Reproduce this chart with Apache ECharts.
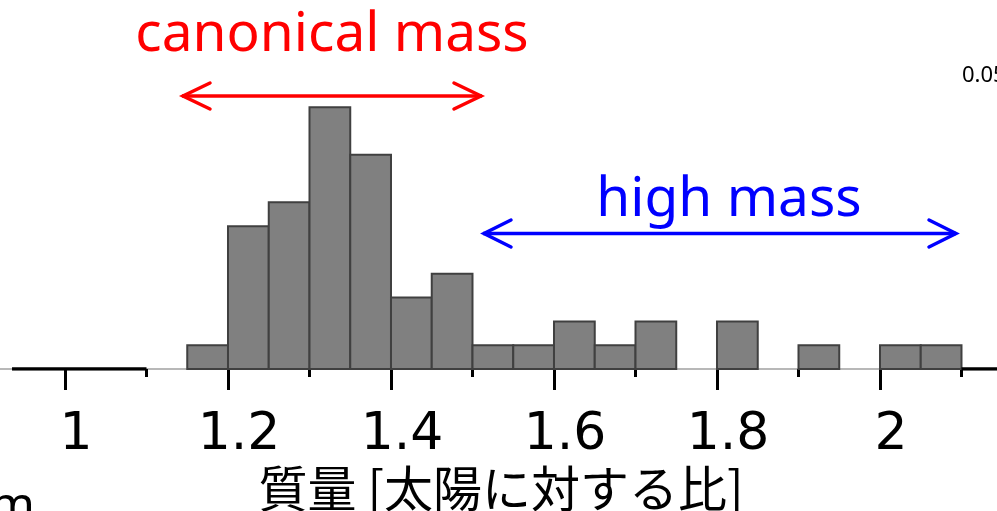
<!DOCTYPE html>
<html><head><meta charset="utf-8">
<script src="https://cdn.jsdelivr.net/npm/echarts@6/dist/echarts.min.js"></script>
<style>html,body{margin:0;padding:0;background:#fff}#c{width:997px;height:511px}</style>
</head><body><div id="c"></div>
<script>
const binStarts = [1.15,1.20,1.25,1.30,1.35,1.40,1.45,1.50,1.55,1.60,1.65,1.70,1.75,1.80,1.85,1.90,1.95,2.00,2.05];
const binEnds   = [1.20,1.25,1.30,1.35,1.40,1.45,1.50,1.55,1.60,1.65,1.70,1.75,1.80,1.85,1.90,1.95,2.00,2.05,2.10];
const counts    = [1,6,7,11,9,3,4,1,1,2,1,2,0,2,0,1,0,1,1];
const majorTicks = [1,1.2,1.4,1.6,1.8,2];
const minorTicks = [1.1,1.3,1.5,1.7,1.9,2.1];
const axisTitle = '質量 [太陽に対する比]';

const chart = echarts.init(document.getElementById('c'), null, {renderer:'canvas'});
const xMin = 0.92025, xMax = 2.14356;
const barData = binStarts.map((s,i)=>[s, binEnds[i], counts[i]]);

chart.setOption({
  animation:false,
  backgroundColor:'#fff',
  grid:{left:0,right:0,top:0,bottom:142,containLabel:false,outerBoundsMode:'none'},
  xAxis:[{
    type:'value', min:xMin, max:xMax,
    axisLine:{show:true,lineStyle:{color:'#a0a0a0',width:1.5}},
    axisTick:{show:true,customValues:majorTicks,length:21,lineStyle:{color:'#000',width:3}},
    axisLabel:{show:true,customValues:majorTicks,margin:40,fontSize:52,color:'#000',
      fontFamily:'"DejaVu Sans", sans-serif',padding:[0,0,0,22],
      formatter:v=>String(v)},
    splitLine:{show:false}
  },{
    type:'value', min:xMin, max:xMax, position:'bottom',
    axisLine:{show:false},
    axisTick:{show:true,customValues:minorTicks,length:8,lineStyle:{color:'#000',width:3}},
    axisLabel:{show:false,customValues:minorTicks},
    splitLine:{show:false}
  }],
  yAxis:{type:'value',min:0,max:15.5,show:false},
  series:[{
    type:'custom',
    data:barData,
    renderItem:function(params,api){
      const lo=api.value(0),hi=api.value(1),c=api.value(2);
      if(!c) return null;
      const p1=api.coord([lo,c]),p2=api.coord([hi,0]);
      return {type:'rect',shape:{x:p1[0],y:p1[1],width:p2[0]-p1[0],height:p2[1]-p1[1]},
        style:{fill:'#808080',stroke:'#404040',lineWidth:2}};
    },
    z:2
  },{
    type:'line',data:[[0.935,0],[1.1,0]],symbol:'none',lineStyle:{color:'#000',width:3.5},z:3
  },{
    type:'line',data:[[2.1,0],[xMax,0]],symbol:'none',lineStyle:{color:'#000',width:3.5},z:3
  }],
  graphic:[
    {type:'text',x:332,y:35,style:{text:'canonical mass',fill:'#ff0000',font:'55px "Noto Sans"',textAlign:'center',textVerticalAlign:'middle'}},
    {type:'text',x:729,y:200,style:{text:'high mass',fill:'#0000ff',font:'55px "Noto Sans"',textAlign:'center',textVerticalAlign:'middle'}},
    {type:'polyline',shape:{points:[[182,96],[482,96]]},style:{stroke:'#ff0000',lineWidth:3.5,fill:null}},
    {type:'polyline',shape:{points:[[210,83],[183,96],[210,109]]},style:{stroke:'#ff0000',lineWidth:3.5,fill:null,lineCap:'round',lineJoin:'miter'}},
    {type:'polyline',shape:{points:[[454,83],[481,96],[454,109]]},style:{stroke:'#ff0000',lineWidth:3.5,fill:null,lineCap:'round',lineJoin:'miter'}},
    {type:'polyline',shape:{points:[[483,233.5],[956,233.5]]},style:{stroke:'#0000ff',lineWidth:3.5,fill:null}},
    {type:'polyline',shape:{points:[[511,220],[484,233.5],[511,247]]},style:{stroke:'#0000ff',lineWidth:3.5,fill:null,lineCap:'round'}},
    {type:'polyline',shape:{points:[[929,220],[956,233.5],[929,247]]},style:{stroke:'#0000ff',lineWidth:3.5,fill:null,lineCap:'round'}},
    {type:'text',x:501,y:488,style:{text:axisTitle,fill:'#000',font:'49px "Noto Sans CJK JP"',textAlign:'center',textVerticalAlign:'middle'}},
    {type:'text',x:-10,y:507,style:{text:'m',fill:'#000',font:'48px "Noto Sans"',textAlign:'left',textVerticalAlign:'middle'}},
    {type:'text',x:962,y:76,style:{text:'0.05',fill:'#000',font:'22px "Noto Sans"',textAlign:'left',textVerticalAlign:'middle'}}
  ]
});
</script></body></html>
